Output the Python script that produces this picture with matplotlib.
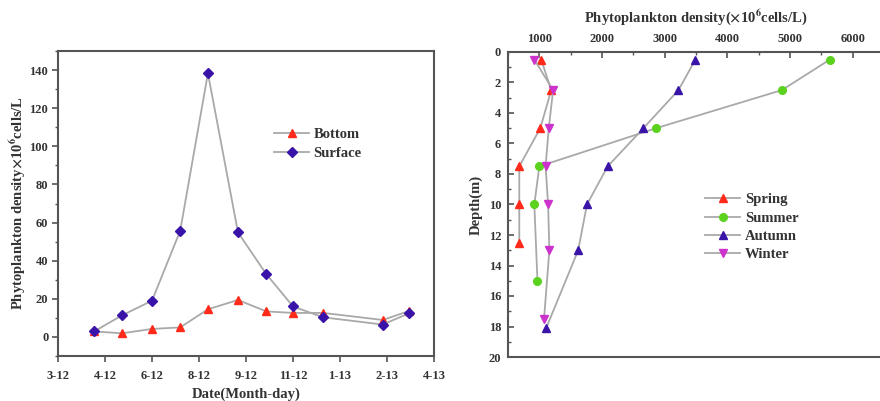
import matplotlib
matplotlib.use("Agg")
import matplotlib.pyplot as plt
from matplotlib.ticker import MultipleLocator

plt.rcParams['font.family'] = ['Liberation Serif', 'DejaVu Serif']
plt.rcParams['font.weight'] = 'bold'
plt.rcParams['axes.labelweight'] = 'bold'
plt.rcParams['mathtext.fontset'] = 'stix'
plt.rcParams['mathtext.default'] = 'bf'

# ---- Seasonal time series (left panel) ----
date_labels = ["3-12", "4-12", "6-12", "8-12", "9-12", "11-12", "1-13", "2-13", "4-13"]
sample_pos = [0.77, 1.36, 2.0, 2.6, 3.19, 3.83, 4.43, 5.0, 5.64, 6.91, 7.47]
bottom_vals = [2.9, 1.9, 4.2, 5.0, 14.5, 19.4, 13.4, 12.6, 12.6, 8.9, 13.6]
surface_vals = [2.9, 11.3, 19.0, 55.7, 138.3, 54.8, 33.0, 16.0, 10.3, 6.5, 12.4]

# ---- Vertical profiles (right panel) ----
spring_depth = [0.5, 2.5, 5, 7.5, 10, 12.5]
spring_dens = [1030, 1190, 1015, 680, 680, 680]
summer_depth = [0.5, 2.5, 5, 7.5, 10, 15]
summer_dens = [5635, 4870, 2860, 1000, 920, 970]
autumn_depth = [0.5, 2.5, 5, 7.5, 10, 13, 18.1]
autumn_dens = [3490, 3220, 2660, 2090, 1760, 1620, 1110]
winter_depth = [0.5, 2.5, 5, 7.5, 10, 13, 17.5]
winter_dens = [920, 1220, 1150, 1100, 1140, 1160, 1075]

line_col = "#a9a9a9"
spine_col = "#555555"
text_col = "#333333"
red = "#ff2a1a"
navy = "#3a14a8"
green = "#5ad21e"
magenta = "#cc33cc"

fig = plt.figure(figsize=(8.8, 4.01), dpi=100)

# Left panel
ax1 = fig.add_axes([58 / 880, 1 - 356 / 401, (434 - 58) / 880, (356 - 51) / 401])
ax1.plot(sample_pos, bottom_vals, color=line_col, lw=1.3, marker="^", ms=6,
         mfc=red, mec=red, label="Bottom")
ax1.plot(sample_pos, surface_vals, color=line_col, lw=1.3, marker="D", ms=5.5,
         mfc=navy, mec=navy, label="Surface")
ax1.set_xlim(0, 8)
ax1.set_ylim(-10, 150)
ax1.set_xticks(range(len(date_labels)))
ax1.set_xticklabels(date_labels)
ax1.yaxis.set_minor_locator(MultipleLocator(10))
ax1.set_yticks(range(0, 141, 20))
ax1.tick_params(direction="out", length=4, width=1.2, color=spine_col,
                labelsize=9, labelcolor=text_col, pad=3)
ax1.tick_params(axis="x", pad=6)
ax1.tick_params(which="minor", direction="out", length=2.5, width=1.0, color=spine_col)
for s in ax1.spines.values():
    s.set_color(spine_col)
    s.set_linewidth(1.5)
ax1.set_xlabel("Date(Month-day)", fontsize=10.5, color=text_col, labelpad=4)
ax1.set_ylabel(r"Phytoplankton density$\times$10$^6$cells/L", fontsize=10.5,
               color=text_col, labelpad=1)
ax1.legend(loc="upper left", bbox_to_anchor=(0.54, 0.79), frameon=False,
           fontsize=10.5, handlelength=2.4, handletextpad=0.3, labelspacing=0.4,
           labelcolor=text_col)

# Right panel
ax2 = fig.add_axes([508 / 880, 1 - 357 / 401, (884 - 508) / 880, (357 - 52) / 401])
ax2.plot(spring_dens, spring_depth, color=line_col, lw=1.3, marker="^", ms=6,
         mfc=red, mec=red, label="Spring")
ax2.plot(summer_dens, summer_depth, color=line_col, lw=1.3, marker="o", ms=5.5,
         mfc=green, mec=green, label="Summer")
ax2.plot(autumn_dens, autumn_depth, color=line_col, lw=1.3, marker="^", ms=6,
         mfc=navy, mec=navy, label="Autumn")
ax2.plot(winter_dens, winter_depth, color=line_col, lw=1.3, marker="v", ms=6,
         mfc=magenta, mec=magenta, label="Winter")
ax2.set_xlim(500, 6500)
ax2.set_ylim(20, 0)
ax2.xaxis.tick_top()
ax2.xaxis.set_label_position("top")
ax2.set_xticks(range(1000, 6001, 1000))
ax2.xaxis.set_minor_locator(MultipleLocator(500))
ax2.set_yticks(range(0, 21, 2))
ax2.yaxis.set_minor_locator(MultipleLocator(1))
ax2.tick_params(direction="in", length=4, width=1.2, color=spine_col,
                labelsize=9, labelcolor=text_col, pad=5)
ax2.tick_params(which="minor", direction="in", length=2.5, width=1.0, color=spine_col)
ax2.spines["right"].set_visible(False)
for k in ("left", "top", "bottom"):
    ax2.spines[k].set_color(spine_col)
    ax2.spines[k].set_linewidth(1.5)
ax2.set_xlabel(r"Phytoplankton density($\times$10$^6$cells/L)", fontsize=10.5,
               color=text_col, labelpad=8)
ax2.set_ylabel("Depth(m)", fontsize=10.5, color=text_col, labelpad=4)
ax2.legend(loc="upper left", bbox_to_anchor=(0.49, 0.58), frameon=False,
           fontsize=10.5, handlelength=2.4, handletextpad=0.3, labelspacing=0.35,
           labelcolor=text_col)

fig.savefig("out.png", dpi=100)
